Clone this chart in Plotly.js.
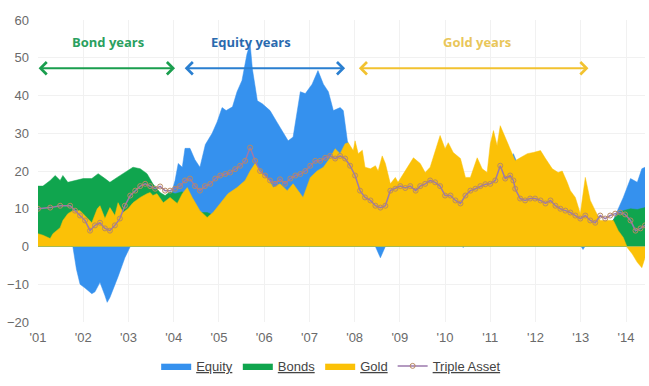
<!DOCTYPE html>
<html><head><meta charset="utf-8">
<script src="https://cdn.plot.ly/plotly-3.0.1.min.js"></script>
<style>html,body{margin:0;padding:0;background:#fff}#chart{width:649px;height:386px}</style>
</head><body><div id="chart"></div>
<script>
// ---- data ----
const equityYears = [2001.00,2001.3,2001.6,2001.77,2001.85,2001.93,2002.04,2002.19,2002.26,2002.37,2002.48,2002.53,2002.59,2002.64,2002.77,2002.92,2003.04,2003.3,2003.6,2003.9,2004.03,2004.10,2004.19,2004.25,2004.36,2004.47,2004.58,2004.70,2004.85,2004.96,2005.07,2005.16,2005.30,2005.40,2005.51,2005.62,2005.69,2005.74,2005.85,2005.96,2006.13,2006.28,2006.42,2006.53,2006.64,2006.80,2006.91,2007.06,2007.19,2007.31,2007.42,2007.53,2007.68,2007.75,2007.84,2007.95,2008.2,2008.35,2008.46,2008.57,2008.68,2008.8,2009.0,2009.3,2009.6,2009.9,2010.1,2010.3,2010.4,2010.5,2010.8,2011.1,2011.4,2011.51,2011.6,2011.8,2012.0,2012.3,2012.6,2012.9,2013.05,2013.2,2013.5,2013.72,2013.81,2013.94,2014.10,2014.25,2014.35,2014.42];
const equityValues = [5,3,1,0,-6,-10,-11,-12.5,-12,-9.5,-13,-14.8,-13.5,-12,-8,-3,0,5,9,12,17.5,22,21,26,26,23,21,27,30,33,36.8,36,37,41,44,51,53.7,47,38.6,37.8,36,33,30,28,29,41,40.5,43,46.6,43,41,36,36.8,36,28,24,15,5,0,-3,0,5,10,15,18,15,10,3,-0.3,3,12,18,22,24.6,22,15,10,8,5,2,-0.8,2,5,7,9.5,13,18,17,20.6,21];

const bondYears = [2001.00,2001.11,2001.27,2001.38,2001.49,2001.55,2001.66,2001.82,2002.00,2002.19,2002.33,2002.48,2002.59,2002.75,2002.97,2003.10,2003.26,2003.41,2003.54,2003.70,2003.81,2003.92,2004.03,2004.19,2004.36,2004.55,2004.74,2004.81,2004.95,2005.3,2006.0,2007.0,2008.0,2009.0,2010.0,2011.0,2012.0,2013.0,2013.5,2013.72,2013.83,2013.94,2014.10,2014.25,2014.42];
const bondValues = [16,16,17.5,18.8,17.5,18.8,17,17.5,18,18,19.3,18,17,18.3,20,21,20.6,19.3,16.6,14.3,13.5,14.5,14,14.5,11,9,9,8.7,7,5,4,3,6,5,4,5,3,2,5,7,9,9.5,10,9.8,10.3];

const goldYears = [2001.00,2001.11,2001.27,2001.33,2001.49,2001.55,2001.66,2001.77,2001.93,2002.08,2002.19,2002.31,2002.37,2002.48,2002.59,2002.70,2002.77,2002.88,2002.99,2003.10,2003.26,2003.41,2003.48,2003.54,2003.63,2003.77,2003.92,2004.08,2004.19,2004.30,2004.41,2004.58,2004.74,2004.87,2005.03,2005.20,2005.40,2005.58,2005.69,2005.80,2005.98,2006.07,2006.20,2006.35,2006.51,2006.64,2006.80,2006.86,2007.02,2007.17,2007.31,2007.46,2007.57,2007.68,2007.79,2007.86,2007.97,2008.01,2008.08,2008.17,2008.23,2008.35,2008.46,2008.52,2008.61,2008.68,2008.79,2008.90,2008.96,2009.12,2009.30,2009.45,2009.56,2009.67,2009.78,2009.89,2010.00,2010.07,2010.18,2010.34,2010.45,2010.56,2010.71,2010.82,2010.93,2011.00,2011.07,2011.15,2011.22,2011.33,2011.44,2011.55,2011.66,2011.82,2011.95,2012.11,2012.22,2012.37,2012.50,2012.59,2012.70,2012.77,2012.88,2012.99,2013.10,2013.21,2013.32,2013.43,2013.59,2013.72,2013.83,2013.94,2014.03,2014.14,2014.25,2014.35,2014.42];
const goldValues = [3.4,3.0,2.1,3.4,5,6.9,8.7,9.5,9.5,7.7,6.3,10,10.8,7.4,10.3,8.2,11.6,9,10,11.6,13,14,14.3,13.5,14,11.6,13,11.4,14,15.6,13,9.5,7.7,9,11.4,14,15.6,17.5,20,22,19.3,18.3,15.6,16.6,14.8,16.6,14,13,18.3,20,21,23.5,25.9,24.6,27.2,27.5,25.4,28,24.6,25.5,21,20.6,21.4,20,24,22,16.6,18.3,17,20,23.5,22,19.6,21,25.4,29.4,25.9,27.5,24.9,23.3,18.3,18.3,23.5,20.6,19.6,27.2,30.7,26.7,32,28.8,25.4,22.7,23.5,24.6,24.9,25.4,23.3,20.6,19.6,20,17,14.8,13,8.7,18.3,12.2,9.5,6.9,6.9,6.9,4.2,2.4,-0.3,-2,-4.2,-5.6,-3];

const tripleYears = [2001.00,2001.27,2001.49,2001.71,2001.82,2001.93,2002.04,2002.15,2002.26,2002.37,2002.48,2002.59,2002.70,2002.81,2002.92,2003.04,2003.15,2003.26,2003.37,2003.48,2003.59,2003.70,2003.81,2003.92,2004.03,2004.14,2004.25,2004.36,2004.47,2004.58,2004.69,2004.81,2004.92,2005.03,2005.14,2005.25,2005.36,2005.47,2005.58,2005.69,2005.80,2005.91,2006.02,2006.13,2006.24,2006.35,2006.46,2006.58,2006.69,2006.80,2006.91,2007.02,2007.13,2007.24,2007.35,2007.46,2007.57,2007.68,2007.79,2007.90,2008.01,2008.12,2008.23,2008.35,2008.46,2008.57,2008.68,2008.79,2008.90,2009.01,2009.12,2009.23,2009.35,2009.45,2009.56,2009.67,2009.78,2009.89,2010.00,2010.12,2010.23,2010.34,2010.45,2010.56,2010.67,2010.78,2010.89,2011.00,2011.11,2011.22,2011.33,2011.44,2011.51,2011.55,2011.66,2011.77,2011.88,2011.99,2012.11,2012.22,2012.33,2012.44,2012.55,2012.66,2012.77,2012.88,2012.99,2013.10,2013.21,2013.32,2013.43,2013.54,2013.65,2013.76,2013.87,2013.98,2014.10,2014.21,2014.32,2014.42];
const tripleValues = [10,10.3,10.8,10.8,9.5,8.2,6.9,4.2,5.6,6.3,4.8,4.2,5.6,7.4,10.8,13.5,14.8,16,16.6,16,15.3,15.9,14.8,14.8,15.3,16,17.5,18,16,14.8,16,16.6,18,18.8,19.2,19.6,20.5,21.4,22.7,26.2,22.7,20,18.8,17.5,16.6,17.8,16.6,18,18.8,19.2,20,21.4,22.7,22.7,23.5,24,23.3,24,23.3,21.4,18.8,14.8,13,12.2,10.8,10.3,10.8,14.8,15.3,16,15.5,16,14.8,16,16.6,17.5,17,16,13.5,13.5,12.2,11.4,13.5,14.8,15.3,16,16.5,16.6,17.5,21.4,18,18.8,17.5,15.3,12.7,12.2,12.7,12.7,12.2,11.4,12.2,10.8,10,9.5,9,8.2,7.4,8.2,6.9,6.3,8.2,7.4,8.2,8.7,9,8.5,6.9,4.2,4.8,5.6];

const yearTicks = [2001,2002,2003,2004,2005,2006,2007,2008,2009,2010,2011,2012,2013,2014];
const yearLabels = ["'01","'02","'03","'04","'05","'06","'07","'08","'09","'10","'11","'12","'13","'14"];

const periodNames = ["Bond years","Equity years","Gold years"];
const periodLabelYears = [2002.55,2005.7,2010.7];
const periodLabelLevel = 54.2;
const periodStart = [2000.98,2004.21,2008.06];
const periodEnd = [2004.03,2007.79,2013.17];
const periodLevel = 47.2;
const periodColors = ["#1a9e4e","#2a7fd0","#f2c230"];
const periodTextColors = ["#2aa060","#2a6aae","#e9c65a"];

// ---- chart ----
const traces = [
  {x: equityYears, y: equityValues, name: 'Equity', type: 'scatter', mode: 'lines', fill: 'tozeroy',
   line: {color: '#3591ee', width: 0.5}, fillcolor: '#3591ee'},
  {x: bondYears, y: bondValues, name: 'Bonds', type: 'scatter', mode: 'lines', fill: 'tozeroy',
   line: {color: '#10a54e', width: 0.5}, fillcolor: '#10a54e'},
  {x: goldYears, y: goldValues, name: 'Gold', type: 'scatter', mode: 'lines', fill: 'tozeroy',
   line: {color: '#fbc107', width: 0.5}, fillcolor: '#fbc107'},
  {x: tripleYears, y: tripleValues, name: 'Triple Asset', type: 'scatter', mode: 'lines+markers',
   line: {color: '#9b79ad', width: 1.5},
   marker: {symbol: 'circle-open', size: 5, color: '#b98a62', line: {width: 1}}}
];

const annotations = [];
for (let i = 0; i < periodNames.length; i++) {
  annotations.push({x: periodLabelYears[i], y: periodLabelLevel, xref: 'x', yref: 'y',
    text: '<b>' + periodNames[i] + '</b>', showarrow: false,
    font: {family: 'Open Sans, Liberation Sans, sans-serif', size: 13, color: periodTextColors[i]}});
  annotations.push({x: periodEnd[i], y: periodLevel, ax: periodStart[i], ay: periodLevel,
    xref: 'x', yref: 'y', axref: 'x', ayref: 'y', text: '', showarrow: true,
    arrowside: 'end+start', arrowhead: 4, startarrowhead: 4, arrowsize: 1.2, startarrowsize: 1.2,
    arrowwidth: 2, arrowcolor: periodColors[i]});
}

const layout = {
  width: 649, height: 386,
  margin: {l: 38, r: 4, t: 20, b: 64},
  paper_bgcolor: '#ffffff', plot_bgcolor: '#ffffff',
  font: {family: 'Liberation Sans, Arial, sans-serif', color: '#666'},
  showlegend: true,
  legend: {orientation: 'h', x: 0.483, xanchor: 'center', yref: 'container', y: 0.052, yanchor: 'middle',
    font: {size: 13, color: '#444', lineposition: 'under'}, itemwidth: 30, traceorder: 'normal'},
  xaxis: {range: [2001, 2014.42], tickvals: yearTicks, ticktext: yearLabels,
    showgrid: true, gridcolor: '#f1f1f1', zeroline: false, showline: false, ticks: '',
    ticklabelstandoff: 6, tickfont: {size: 13, color: '#6a6a6a'}},
  yaxis: {range: [-20, 60], dtick: 10, showgrid: true, gridcolor: '#f1f1f1', zeroline: false,
    showline: false, ticks: '', ticklabelstandoff: 8, tickfont: {size: 13, color: '#6a6a6a'}},
  annotations: annotations
};

Plotly.newPlot('chart', traces, layout, {displayModeBar: false, staticPlot: true});
</script>
</body></html>
